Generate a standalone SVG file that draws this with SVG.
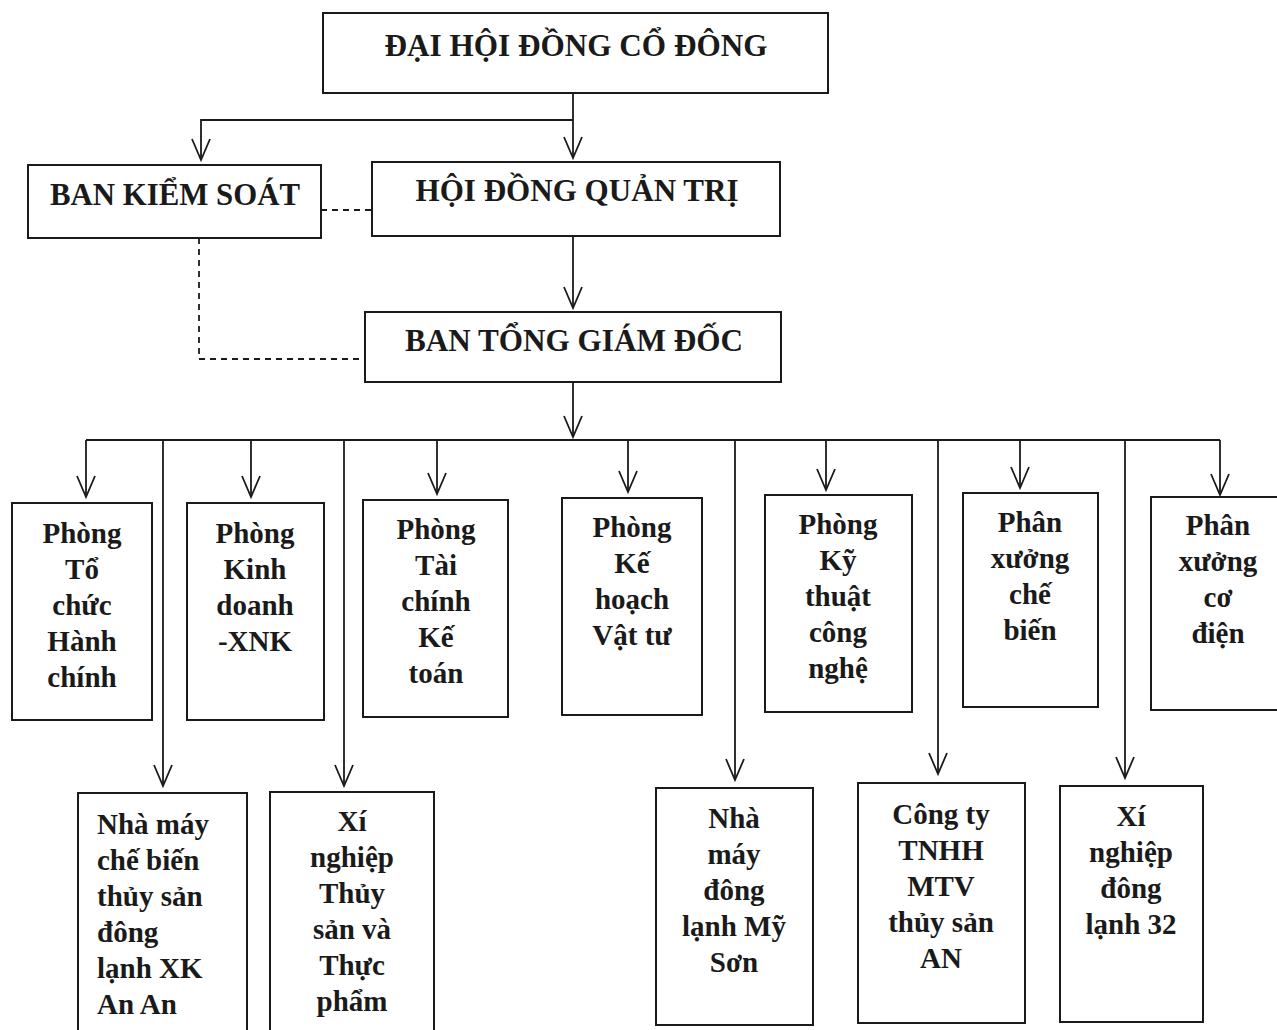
<svg xmlns="http://www.w3.org/2000/svg" width="1277" height="1030" viewBox="0 0 1277 1030">
<defs>
<marker id="arr" markerUnits="userSpaceOnUse" viewBox="-22 -11 24 22" markerWidth="24" markerHeight="22" refX="0" refY="0" orient="auto" overflow="visible">
<path d="M-21,-9 L0,0 L-21,9" fill="none" stroke="#1a1a1a" stroke-width="1.8"/>
</marker>
</defs>
<style>
.box{fill:#fff;stroke:#1a1a1a;stroke-width:2}
.ln{fill:none;stroke:#1a1a1a;stroke-width:1.8}
.ds{fill:none;stroke:#1a1a1a;stroke-width:1.8;stroke-dasharray:6,5}
text{font-family:"Liberation Serif","Times New Roman",serif;font-weight:bold;fill:#1a1a1a}
.h{font-size:31px;text-anchor:middle}
.t{font-size:29px;text-anchor:middle}
.l{font-size:29px;text-anchor:start}
</style>
<rect width="1277" height="1030" fill="#fff"/>
<g id="connectors">
<path class="ln" d="M573,93 V120"/>
<path class="ln" d="M573,120 H201 V160" marker-end="url(#arr)"/>
<path class="ln" d="M573,120 V158" marker-end="url(#arr)"/>
<path class="ln" d="M573,236 V308" marker-end="url(#arr)"/>
<path class="ds" d="M321,210 H372"/>
<path class="ds" d="M199,238 V359 H365"/>
<path class="ln" d="M573,382 V437" marker-end="url(#arr)"/>
<path class="ln" d="M86,440 H1220"/>
<path class="ln" d="M86,440 V497" marker-end="url(#arr)"/>
<path class="ln" d="M1220,440 V495" marker-end="url(#arr)"/>
<path class="ln" d="M251,440 V497" marker-end="url(#arr)"/>
<path class="ln" d="M437,440 V494" marker-end="url(#arr)"/>
<path class="ln" d="M628,440 V492" marker-end="url(#arr)"/>
<path class="ln" d="M826,440 V490" marker-end="url(#arr)"/>
<path class="ln" d="M1020,440 V488" marker-end="url(#arr)"/>
<path class="ln" d="M163,440 V786" marker-end="url(#arr)"/>
<path class="ln" d="M344,440 V786" marker-end="url(#arr)"/>
<path class="ln" d="M735,440 V780" marker-end="url(#arr)"/>
<path class="ln" d="M938,440 V774" marker-end="url(#arr)"/>
<path class="ln" d="M1125,440 V778" marker-end="url(#arr)"/>
</g>
<g id="dhdcd">
<rect class="box" x="323" y="13" width="505" height="80"/>
<text class="h" x="576" y="56" textLength="383" lengthAdjust="spacingAndGlyphs">ĐẠI HỘI ĐỒNG CỔ ĐÔNG</text>
</g>
<g id="bks">
<rect class="box" x="28" y="165" width="293" height="73"/>
<text class="h" x="175" y="205" textLength="250" lengthAdjust="spacingAndGlyphs">BAN KIỂM SOÁT</text>
</g>
<g id="hdqt">
<rect class="box" x="372" y="162" width="408" height="74"/>
<text class="h" x="577" y="201" textLength="323" lengthAdjust="spacingAndGlyphs">HỘI ĐỒNG QUẢN TRỊ</text>
</g>
<g id="btgd">
<rect class="box" x="365" y="312" width="416" height="70"/>
<text class="h" x="574" y="351" textLength="338" lengthAdjust="spacingAndGlyphs">BAN TỔNG GIÁM ĐỐC</text>
</g>
<g id="p-tchc">
<rect class="box" x="12" y="503" width="140" height="217"/>
<text class="t" x="82" y="543">Phòng</text>
<text class="t" x="82" y="579">Tổ</text>
<text class="t" x="82" y="615">chức</text>
<text class="t" x="82" y="651">Hành</text>
<text class="t" x="82" y="687">chính</text>
</g>
<g id="p-kd">
<rect class="box" x="187" y="503" width="137" height="217"/>
<text class="t" x="255" y="543">Phòng</text>
<text class="t" x="255" y="579">Kinh</text>
<text class="t" x="255" y="615">doanh</text>
<text class="t" x="255" y="651">-XNK</text>
</g>
<g id="p-tckt">
<rect class="box" x="363" y="500" width="145" height="217"/>
<text class="t" x="436" y="539">Phòng</text>
<text class="t" x="436" y="575">Tài</text>
<text class="t" x="436" y="611">chính</text>
<text class="t" x="436" y="647">Kế</text>
<text class="t" x="436" y="683">toán</text>
</g>
<g id="p-khvt">
<rect class="box" x="562" y="498" width="140" height="217"/>
<text class="t" x="632" y="537">Phòng</text>
<text class="t" x="632" y="573">Kế</text>
<text class="t" x="632" y="609">hoạch</text>
<text class="t" x="632" y="645">Vật tư</text>
</g>
<g id="p-ktcn">
<rect class="box" x="765" y="495" width="147" height="217"/>
<text class="t" x="838" y="534">Phòng</text>
<text class="t" x="838" y="570">Kỹ</text>
<text class="t" x="838" y="606">thuật</text>
<text class="t" x="838" y="642">công</text>
<text class="t" x="838" y="678">nghệ</text>
</g>
<g id="px-cb">
<rect class="box" x="963" y="493" width="135" height="214"/>
<text class="t" x="1030" y="532">Phân</text>
<text class="t" x="1030" y="568">xưởng</text>
<text class="t" x="1030" y="604">chế</text>
<text class="t" x="1030" y="640">biến</text>
</g>
<g id="px-cd">
<rect class="box" x="1151" y="497" width="130" height="213"/>
<text class="t" x="1218" y="535">Phân</text>
<text class="t" x="1218" y="571">xưởng</text>
<text class="t" x="1218" y="607">cơ</text>
<text class="t" x="1218" y="643">điện</text>
</g>
<g id="nm-anan">
<rect class="box" x="78" y="793" width="169" height="245"/>
<text class="l" x="97" y="834">Nhà máy</text>
<text class="l" x="97" y="870">chế biến</text>
<text class="l" x="97" y="906">thủy sản</text>
<text class="l" x="97" y="942">đông</text>
<text class="l" x="97" y="978">lạnh XK</text>
<text class="l" x="97" y="1014">An An</text>
</g>
<g id="xn-tstp">
<rect class="box" x="270" y="792" width="164" height="245"/>
<text class="t" x="352" y="831">Xí</text>
<text class="t" x="352" y="867">nghiệp</text>
<text class="t" x="352" y="903">Thủy</text>
<text class="t" x="352" y="939">sản và</text>
<text class="t" x="352" y="975">Thực</text>
<text class="t" x="352" y="1011">phẩm</text>
</g>
<g id="nm-myson">
<rect class="box" x="656" y="788" width="157" height="237"/>
<text class="t" x="734" y="828">Nhà</text>
<text class="t" x="734" y="864">máy</text>
<text class="t" x="734" y="900">đông</text>
<text class="t" x="734" y="936">lạnh Mỹ</text>
<text class="t" x="734" y="972">Sơn</text>
</g>
<g id="cty-an">
<rect class="box" x="858" y="783" width="167" height="240"/>
<text class="t" x="941" y="824">Công ty</text>
<text class="t" x="941" y="860">TNHH</text>
<text class="t" x="941" y="896">MTV</text>
<text class="t" x="941" y="932">thủy sản</text>
<text class="t" x="941" y="968">AN</text>
</g>
<g id="xn-32">
<rect class="box" x="1060" y="786" width="143" height="236"/>
<text class="t" x="1131" y="826">Xí</text>
<text class="t" x="1131" y="862">nghiệp</text>
<text class="t" x="1131" y="898">đông</text>
<text class="t" x="1131" y="934">lạnh 32</text>
</g>
</svg>
